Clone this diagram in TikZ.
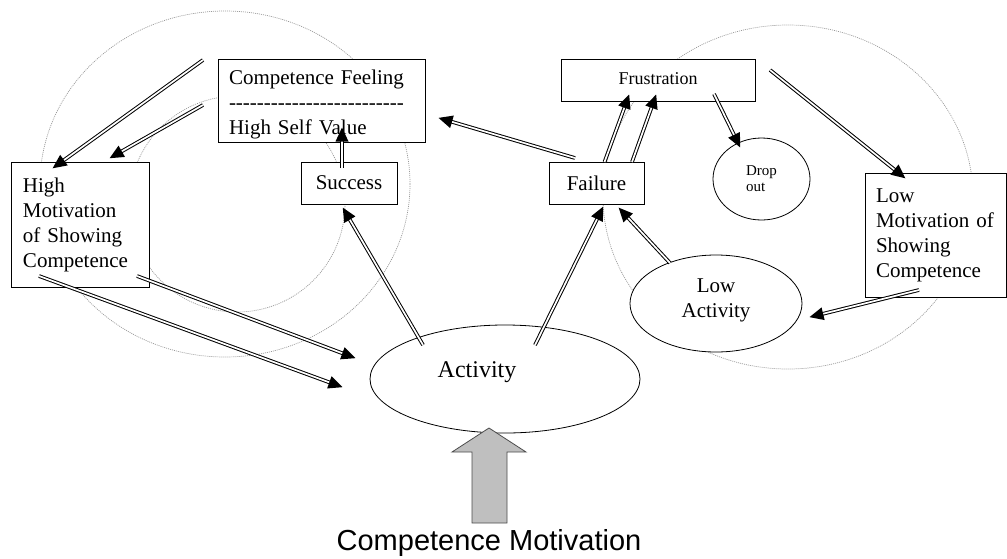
\documentclass[tikz,border=0pt]{standalone}
\usepackage{fontspec}
\setmainfont{Liberation Serif}
\newfontfamily\sansf{Liberation Sans}
\usetikzlibrary{shapes.geometric,decorations.markings}
\newcommand\fsz[2]{\fontsize{#1}{#2}\selectfont}
\newcommand\hy{\mbox{-}}
\newcommand\hyfive{\hy\hy\hy\hy\hy}
\tikzset{
  box/.style={draw, fill=white, line width=0.9pt, inner sep=0pt, font=\fsz{21}{25}},
  lbox/.style={box, align=left},
  oval/.style={draw, fill=white, ellipse, line width=0.8pt, inner sep=0pt, align=center, font=\fsz{21}{25}},
  zone/.style={draw=gray!80, line width=0.7pt, dash pattern=on 1pt off 1pt},
  dbl/.style={draw, double=white, double distance=1.7pt, line width=1pt, shorten >=12pt,
    postaction={decorate, decoration={markings, mark=at position 1 with {\fill[black] (0.5pt,0pt) -- (-13.5pt,6.5pt) -- (-13.5pt,-6.5pt) -- cycle;}}}},
  bigarrow/.style={draw=black!70, fill=gray!50, line width=0.8pt, line join=miter}
}
\begin{document}
\begin{tikzpicture}[x=1pt,y=-1pt]
\useasboundingbox (0,0) rectangle (1007,558);
% dotted zones
\draw[zone] (225,184) ellipse [x radius=185, y radius=173];
\draw[zone] (237,204) circle [radius=108];
\draw[zone] (788,197) ellipse [x radius=185, y radius=172];
% nodes
\node[lbox, minimum width=207pt, minimum height=83pt, text width=185pt, inner xsep=11pt] (cf) at (321.5,100.5)
  {\rule{0pt}{22pt}Competence Feeling\\\hyfive\hyfive\hyfive\hyfive\hyfive\\High Self Value};
\node[box, minimum width=96pt, minimum height=42pt] (suc) at (349,183) {Success\hspace{7pt}};
\node[lbox, minimum width=138pt, minimum height=125pt, text width=114pt, inner xsep=12pt] (hm) at (80,224.5)
  {High\\Motivation\\of Showing\\Competence};
\node[box, minimum width=194pt, minimum height=42pt, font=\fsz{18}{22}] (fru) at (658,80) {\raisebox{2pt}{Frustration}\hspace{26pt}};
\node[box, minimum width=95pt, minimum height=42pt] (fail) at (596.5,183) {Failure\hspace{12pt}};
\node[oval, minimum width=97pt, minimum height=82pt, align=left, font=\fsz{15}{16}] (drop) at (761.5,179) {Drop\\out};
\node[lbox, minimum width=141pt, minimum height=124pt, text width=119pt, inner xsep=11pt] (lm) at (935.5,235)
  {Low\\Motivation of\\Showing\\Competence};
\node[oval, minimum width=172pt, minimum height=97pt] (la) at (716,303.5) {Low\\Activity\rule[-10pt]{0pt}{10pt}};
\node[oval, minimum width=270pt, minimum height=108pt, font=\fsz{24}{28}, text height=16pt, text depth=20pt] (act) at (505,379) {Activity\hspace{56pt}};
\node[font=\sansf\fsz{29}{33}, anchor=base, inner sep=0pt] (cm) at (489,550) {Competence Motivation};
% big gray arrow
\coordinate (tip) at ([shift={(-16,49)}]act.center);
\draw[bigarrow] (tip) -- ++(37,24) -- ++(-19,0) -- ++(0,71) -- ++(-35,0) -- ++(0,-71) -- ++(-20,0) -- cycle;
% double arrows
\draw[dbl] ([shift={(-118.5,-40.5)}]cf.center) -- ([shift={(-27,-56.5)}]hm.center);
\draw[dbl] ([shift={(-118.5,4.5)}]cf.center) -- ([shift={(30,-66.5)}]hm.center);
\draw[dbl] ([shift={(-7,-15)}]suc.center) -- ([shift={(20.5,27.5)}]cf.center);
\draw[dbl] ([shift={(-82,-34)}]act.center) -- ([shift={(-6,25)}]suc.center);
\draw[dbl] ([shift={(-21.5,-25)}]fail.center) -- ([shift={(117.5,17.5)}]cf.center);
\draw[dbl] ([shift={(8,-21)}]fail.center) -- ([shift={(-29,15)}]fru.center);
\draw[dbl] ([shift={(35.5,-21)}]fail.center) -- ([shift={(-2,15)}]fru.center);
\draw[dbl] ([shift={(30,-34)}]act.center) -- ([shift={(6.5,24)}]fail.center);
\draw[dbl] ([shift={(-46,-40.5)}]la.center) -- ([shift={(22.5,25)}]fail.center);
\draw[dbl] ([shift={(56,14)}]fru.center) -- ([shift={(-21.5,-32)}]drop.center);
\draw[dbl] ([shift={(112,-10)}]fru.center) -- ([shift={(-30.5,-57)}]lm.center);
\draw[dbl] ([shift={(-16.5,55)}]lm.center) -- ([shift={(94,13.5)}]la.center);
\draw[dbl] ([shift={(-41,51.5)}]hm.center) -- ([shift={(-163,8)}]act.center);
\draw[dbl] ([shift={(57,51.5)}]hm.center) -- ([shift={(-150,-21)}]act.center);
\end{tikzpicture}
\end{document}
